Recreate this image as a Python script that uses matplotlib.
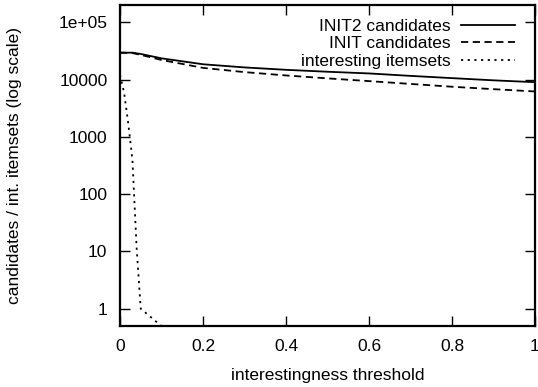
import matplotlib
matplotlib.use("Agg")
import matplotlib.pyplot as plt
from matplotlib.ticker import FixedLocator, FixedFormatter, NullLocator

plt.rcParams['font.family'] = ['Liberation Sans', 'DejaVu Sans']

thresholds = [0.0, 0.03, 0.05, 0.1, 0.2, 0.3, 0.4, 0.5, 0.6, 0.7, 0.8, 0.9, 1.0]
init2 = [29500, 29500, 28000, 23500, 18500, 16300, 14800, 13700, 12800, 11600, 10600, 9700, 9000]
init = [29500, 29000, 27000, 22000, 16000, 13500, 11800, 10500, 9400, 8400, 7500, 6800, 6200]

int_x = [0.0, 0.01, 0.02, 0.03, 0.04, 0.05, 0.1, 0.2, 0.4, 0.6, 0.8, 1.0]
int_y = [12000, 5900, 1700, 400, 12, 1, 0.5, 0.5, 0.5, 0.5, 0.5, 0.5]

xticks = [0, 0.2, 0.4, 0.6, 0.8, 1]
xlabels = ["0", "0.2", "0.4", "0.6", "0.8", "1"]
yticks = [1, 10, 100, 1000, 10000, 100000]
ylabels = ["1", "10", "100", "1000", "10000", "1e+05"]

FS = 12.5

fig = plt.figure(figsize=(5.38, 3.87), dpi=100)
ax = fig.add_axes([0.223, 0.1576, 0.7714, 0.8294])

ax.plot(thresholds, init2, color='black', lw=1.3, ls='-', label='INIT2 candidates')
ax.plot(thresholds, init, color='black', lw=1.3, ls=(0, (4, 2.5)), label='INIT candidates')
ax.plot(int_x, int_y, color='black', lw=1.3, ls=(0, (1.2, 2.5)), label='interesting itemsets')

ax.set_yscale('log')
ax.set_xlim(0, 1)
ax.set_ylim(0.5, 2e5)
ax.xaxis.set_major_locator(FixedLocator(xticks))
ax.xaxis.set_major_formatter(FixedFormatter(xlabels))
ax.yaxis.set_major_locator(FixedLocator(yticks))
ax.yaxis.set_major_formatter(FixedFormatter(ylabels))
ax.yaxis.set_minor_locator(NullLocator())
ax.xaxis.set_minor_locator(NullLocator())
ax.tick_params(direction='in', length=7, width=1, top=True, right=True,
               labelsize=FS, colors='black')
ax.tick_params(axis='y', pad=9)
ax.tick_params(axis='x', pad=9)
for s in ax.spines.values():
    s.set_linewidth(1.6)

ax.set_xlabel('interestingness threshold', fontsize=FS)
ax.set_ylabel('candidates / int. itemsets (log scale)', fontsize=FS)
ax.xaxis.set_label_coords(0.5, -0.153)
ax.yaxis.set_label_coords(-0.253, 0.5)
ax.xaxis.label.set_va('center')
ax.yaxis.label.set_va('center')

leg = ax.legend(loc='upper right', bbox_to_anchor=(1.0, 1.0 + 6.5 / 321),
                frameon=False, fontsize=FS, markerfirst=False,
                handlelength=3.1, handletextpad=0.63, labelspacing=0.15,
                borderpad=0.4, borderaxespad=0.75)
for t in leg.get_texts():
    t.set_ha('right')
leg._legend_box.align = 'right'

fig.savefig('out.png', dpi=100)
